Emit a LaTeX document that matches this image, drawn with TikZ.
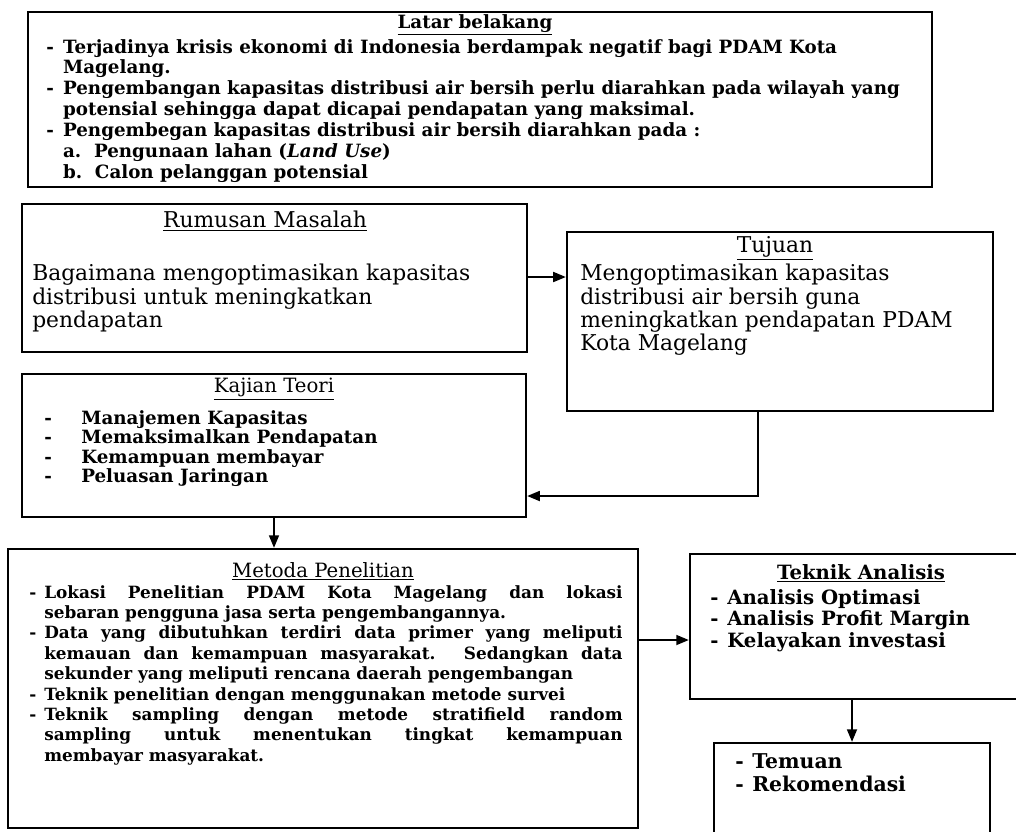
\documentclass[tikz,border=0pt]{standalone}
\usepackage{fontspec}
\setmainfont{DejaVu Serif}
\usetikzlibrary{arrows.meta,positioning}

\newcommand{\latarfont}{\bfseries\fontsize{13}{14.8}\selectfont}
\newcommand{\rumfont}{\fontsize{15.5}{16.5}\selectfont}
\newcommand{\kajfont}{\bfseries\fontsize{13}{13.9}\selectfont}
\newcommand{\metfont}{\bfseries\fontsize{12}{14.5}\selectfont}
\newcommand{\subfont}{\fontsize{14}{15}\selectfont}
\newcommand{\tekfont}{\bfseries\fontsize{14}{15.3}\selectfont}
\newcommand{\temfont}{\bfseries\fontsize{14.5}{16.4}\selectfont}
\newcommand{\dsh}[1]{\makebox[#1][l]{-}}
\newcommand{\ditem}{\hangindent=0.375cm\hangafter=1\noindent\makebox[0.375cm][l]{-}}

\begin{document}
\begin{tikzpicture}[x=0.025cm,y=-0.025cm,
    box/.style={draw,line width=1.5pt,inner sep=0pt},
    head/.style={inner sep=0pt,anchor=north},
    txt/.style={inner sep=0pt,anchor=north west,align=left},
    arr/.style={line width=1.5pt,-{Triangle[length=9pt,width=7pt]}}]
  \clip (0,0) rectangle (1016,831);
  \fill[white] (0,0) rectangle (1016,831);

  \node[box,minimum width=22.6cm,minimum height=4.375cm] (latar) at (480,99.5) {};
  \node[box,minimum width=12.625cm,minimum height=3.7cm] (rumusan) at (274.5,278) {};
  \node[box,minimum width=10.65cm,minimum height=4.475cm] (tujuan) at (780,321.5) {};
  \node[box,minimum width=12.6cm,minimum height=3.575cm] (kajian) at (274,445.5) {};
  \node[box,minimum width=15.75cm,minimum height=6.975cm] (metoda) at (323,688.5) {};
  \node[box,minimum width=8.5cm,minimum height=3.625cm] (teknik) at (860,626.5) {};
  \node[box,minimum width=6.9cm,minimum height=2.675cm] (temuan) at (852,796.5) {};

  % judul
  \node[head,font=\latarfont] (latarT) at (475,14) {\underline{Latar belakang}};
  \node[head,font=\rumfont] (rumusanT) at (265,211) {\underline{Rumusan Masalah}};
  \node[head,font=\rumfont] (tujuanT) at (775,236) {\underline{Tujuan}};
  \node[head,font=\subfont] (kajianT) at (274,378) {\underline{Kajian Teori}};
  \node[head,font=\subfont] (metodaT) at (323,562) {\underline{Metoda Penelitian}};
  \node[head,font=\tekfont] (teknikT) at (861,564) {\underline{Teknik Analisis}};

  % isi
  \node[txt,font=\latarfont] (latarB) at (46,39) {%
    \dsh{0.42cm}Terjadinya krisis ekonomi di Indonesia berdampak negatif bagi PDAM Kota\\
    \hspace*{0.42cm}Magelang.\\
    \dsh{0.42cm}Pengembangan kapasitas distribusi air bersih perlu diarahkan pada wilayah yang\\
    \hspace*{0.42cm}potensial sehingga dapat dicapai pendapatan yang maksimal.\\
    \dsh{0.42cm}Pengembegan kapasitas distribusi air bersih diarahkan pada :\\
    \hspace*{0.42cm}a.\ \ Pengunaan lahan (\textit{Land Use})\\
    \hspace*{0.42cm}b.\ \ Calon pelanggan potensial};
  \node[txt,font=\rumfont] (rumusanB) at (32,264) {%
    Bagaimana mengoptimasikan kapasitas\\
    distribusi untuk meningkatkan\\
    pendapatan};
  \node[txt,font=\rumfont] (tujuanB) at (580,264) {%
    Mengoptimasikan kapasitas\\
    distribusi air bersih guna\\
    meningkatkan pendapatan PDAM\\
    Kota Magelang};
  \node[txt,font=\kajfont] (kajianB) at (44,410) {%
    \dsh{0.925cm}Manajemen Kapasitas\\
    \dsh{0.925cm}Memaksimalkan Pendapatan\\
    \dsh{0.925cm}Kemampuan membayar\\
    \dsh{0.925cm}Peluasan Jaringan};
  \node[txt,font=\metfont,text width=14.83cm,align=justify] (metodaB) at (29,585) {%
    \ditem Lokasi Penelitian PDAM Kota Magelang dan lokasi\linebreak
    sebaran pengguna jasa serta pengembangannya.\par
    \ditem Data yang dibutuhkan terdiri data primer yang meliputi\linebreak
    kemauan dan kemampuan masyarakat. Sedangkan data\linebreak
    sekunder yang meliputi rencana daerah pengembangan\par
    \ditem Teknik penelitian dengan menggunakan metode survei\par
    \ditem Teknik sampling dengan metode stratifield random\linebreak
    sampling untuk menentukan tingkat kemampuan\linebreak
    membayar masyarakat.\par};
  \node[txt,font=\tekfont] (teknikB) at (710,589) {%
    \dsh{0.425cm}Analisis Optimasi\\
    \dsh{0.425cm}Analisis Profit Margin\\
    \dsh{0.425cm}Kelayakan investasi};
  \node[txt,font=\temfont] (temuanB) at (735,753) {%
    \dsh{0.425cm}Temuan\\
    \dsh{0.425cm}Rekomendasi};

  % panah
  \coordinate (r2t) at (547,277);
  \coordinate (back) at (758,496);
  \coordinate (m2t) at (665,640);
  \draw[arr] (rumusan.east |- r2t) -- (tujuan.west |- r2t);
  \draw[arr] (tujuan.south -| back) |- (kajian.east |- back);
  \draw[arr] (kajian.south) -- (kajian.south |- metoda.north);
  \draw[arr] (metoda.east |- m2t) -- (teknik.west |- m2t);
  \draw[arr] (temuan.north |- teknik.south) -- (temuan.north);
\end{tikzpicture}
\end{document}
